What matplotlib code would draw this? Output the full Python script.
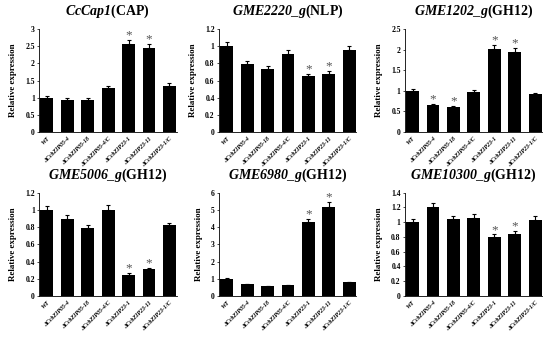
import numpy as np
import matplotlib
matplotlib.use('Agg')
import matplotlib.pyplot as plt

plt.rcParams['font.family'] = ['Liberation Serif', 'DejaVu Serif']
plt.rcParams['mathtext.fontset'] = 'custom'
plt.rcParams['mathtext.it'] = 'Liberation Serif:italic:bold'
plt.rcParams['mathtext.rm'] = 'Liberation Serif:italic:bold'

strains = ['WT', '\u0394CcbZIP05-4', '\u0394CcbZIP05-18', '\u0394CcbZIP05-4/C',
           '\u0394CcbZIP23-1', '\u0394CcbZIP23-11', '\u0394CcbZIP23-1/C']

genes = [r'$\mathit{CcCap1}$(CAP)', r'$\mathit{GME2220\_g}$(NLP)', r'$\mathit{GME1202\_g}$(GH12)',
         r'$\mathit{GME5006\_g}$(GH12)', r'$\mathit{GME6980\_g}$(GH12)', r'$\mathit{GME10300\_g}$(GH12)']

cap1 = [1.0, 0.94, 0.94, 1.27, 2.56, 2.44, 1.35]
cap1_err = [0.05, 0.04, 0.05, 0.06, 0.13, 0.13, 0.07]
g2220 = [1.0, 0.79, 0.73, 0.91, 0.65, 0.675, 0.955]
g2220_err = [0.05, 0.04, 0.035, 0.05, 0.03, 0.04, 0.05]
g1202 = [1.0, 0.65, 0.6, 0.98, 2.02, 1.94, 0.92]
g1202_err = [0.05, 0.04, 0.04, 0.05, 0.1, 0.1, 0.04]
g5006 = [1.0, 0.89, 0.785, 1.0, 0.245, 0.31, 0.82]
g5006_err = [0.05, 0.05, 0.04, 0.06, 0.02, 0.02, 0.03]
g6980 = [1.0, 0.68, 0.57, 0.63, 4.28, 5.2, 0.78]
g6980_err = [0.04, 0.03, 0.03, 0.03, 0.22, 0.26, 0.05]
g10300 = [1.0, 1.2, 1.04, 1.06, 0.795, 0.835, 1.03]
g10300_err = [0.05, 0.06, 0.05, 0.05, 0.04, 0.045, 0.05]

values = [cap1, g2220, g1202, g5006, g6980, g10300]
errors = [cap1_err, g2220_err, g1202_err, g5006_err, g6980_err, g10300_err]
stars = [[4, 5], [4, 5], [1, 2, 4, 5], [4, 5], [4, 5], [4, 5]]
yticks = [np.arange(0, 3.01, 0.5), np.arange(0, 1.21, 0.2), np.arange(0, 2.51, 0.5),
          np.arange(0, 1.21, 0.2), np.arange(0, 6.01, 1), np.arange(0, 1.41, 0.2)]

fig = plt.figure(figsize=(5.5, 3.37), dpi=100)
lefts = [0.071, 0.398, 0.736]
bottoms = [0.608, 0.122]
w, h = 0.25, 0.306

for i in range(6):
    ax = fig.add_axes([lefts[i % 3], bottoms[i // 3], w, h])
    x = np.arange(7)
    v = np.array(values[i])
    e = np.array(errors[i])
    ax.bar(x, v, width=0.63, color='black', zorder=2)
    ax.errorbar(x, v, yerr=[np.zeros(7), e], fmt='none', ecolor='black',
                elinewidth=0.8, capsize=1.5, capthick=0.8, zorder=1)
    top = yticks[i][-1]
    for s in stars[i]:
        ax.text(x[s], v[s] + e[s] - top * 0.015, '*', ha='center', va='bottom',
                fontsize=9.5, color='#555555')
    ax.set_ylim(0, top)
    ax.set_xlim(-0.38, 6.35)
    ax.set_yticks(yticks[i])
    ax.set_yticklabels(['%g' % t for t in yticks[i]], fontsize=5.5, fontweight='bold')
    ax.set_xticks(x)
    ax.set_xticklabels(strains, rotation=45, ha='right', rotation_mode='anchor',
                       fontsize=4.3, fontstyle='italic', fontweight='bold')
    ax.spines['top'].set_visible(False)
    ax.spines['right'].set_visible(False)
    ax.spines['left'].set_linewidth(0.6)
    ax.spines['bottom'].set_linewidth(0.6)
    ax.tick_params(axis='both', length=1.5, width=0.5, pad=1.5)
    ax.tick_params(axis='x', length=0, pad=3)
    ax.set_ylabel('Relative expression', fontsize=6.5, fontweight='bold', labelpad=6)
    ax.set_title(genes[i], fontsize=10, fontweight='bold', pad=10)

fig.savefig('out.png', dpi=100)
